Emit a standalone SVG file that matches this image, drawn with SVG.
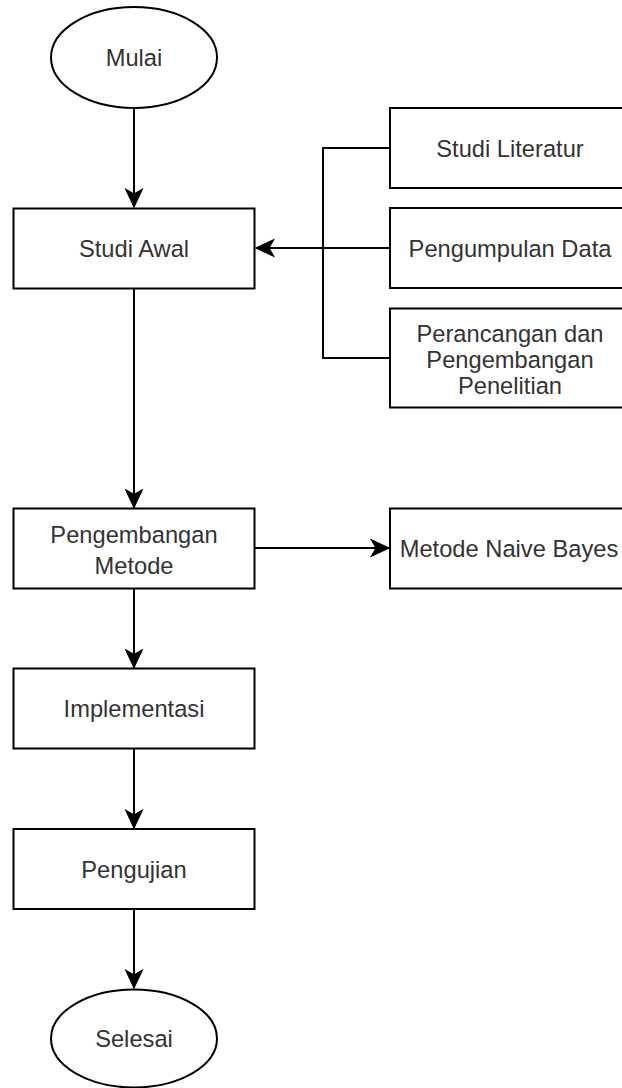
<svg xmlns="http://www.w3.org/2000/svg" width="622" height="1088" viewBox="0 0 622 1088">
  <style>
    .shape { fill: #ffffff; stroke: #000000; stroke-width: 2; }
    .label { font-family: "Liberation Sans", Arial, sans-serif; font-size: 23.7px; fill: #333333; text-anchor: middle; }
    .edge { fill: none; stroke: #000000; stroke-width: 2; }
  </style>
  <defs>
    <marker id="arrow" markerUnits="userSpaceOnUse" markerWidth="20" markerHeight="20" viewBox="-16 -8 17 16" refX="0" refY="0" orient="auto">
      <path d="M0,0 L-15,-7 L-11,0 L-15,7 Z" fill="#000000" stroke="#000000" stroke-width="1"/>
    </marker>
  </defs>
  <rect width="622" height="1088" fill="#ffffff"/>

  <g id="connectors">
    <path class="edge" d="M134,108 L134,207" marker-end="url(#arrow)"/>
    <path class="edge" d="M390,148 L323,148 L323,358 L390,358"/>
    <path class="edge" d="M390,248 L256,248" marker-end="url(#arrow)"/>
    <path class="edge" d="M134,288.5 L134,507.5" marker-end="url(#arrow)"/>
    <path class="edge" d="M255,548 L389,548" marker-end="url(#arrow)"/>
    <path class="edge" d="M134,588.5 L134,667.5" marker-end="url(#arrow)"/>
    <path class="edge" d="M134,748.5 L134,828" marker-end="url(#arrow)"/>
    <path class="edge" d="M134,909 L134,988" marker-end="url(#arrow)"/>
  </g>

  <g id="mulai">
    <ellipse class="shape" cx="134" cy="57.5" rx="83" ry="50.5"/>
    <text class="label" x="134" y="66">Mulai</text>
  </g>
  <g id="studi-awal">
    <rect class="shape" x="13.5" y="208.5" width="241" height="80"/>
    <text class="label" x="134" y="256.5">Studi Awal</text>
  </g>
  <g id="studi-literatur">
    <rect class="shape" x="390" y="108" width="241" height="80"/>
    <text class="label" x="510" y="156.5">Studi Literatur</text>
  </g>
  <g id="pengumpulan-data">
    <rect class="shape" x="390" y="208" width="241" height="80"/>
    <text class="label" x="510" y="256.5">Pengumpulan Data</text>
  </g>
  <g id="perancangan">
    <rect class="shape" x="390" y="308.5" width="241" height="99"/>
    <text class="label" x="510" y="341.5">Perancangan dan</text>
    <text class="label" x="510" y="367.5">Pengembangan</text>
    <text class="label" x="510" y="394">Penelitian</text>
  </g>
  <g id="pengembangan-metode">
    <rect class="shape" x="13.5" y="508.5" width="241" height="80"/>
    <text class="label" x="134" y="543">Pengembangan</text>
    <text class="label" x="134" y="573.5">Metode</text>
  </g>
  <g id="metode-naive-bayes">
    <rect class="shape" x="390" y="508.5" width="241" height="80"/>
    <text class="label" x="509" y="556.5">Metode Naive Bayes</text>
  </g>
  <g id="implementasi">
    <rect class="shape" x="13.5" y="668.5" width="241" height="80"/>
    <text class="label" x="134" y="717">Implementasi</text>
  </g>
  <g id="pengujian">
    <rect class="shape" x="13.5" y="829" width="241" height="80"/>
    <text class="label" x="134" y="877.5">Pengujian</text>
  </g>
  <g id="selesai">
    <ellipse class="shape" cx="134" cy="1038.5" rx="83" ry="49"/>
    <text class="label" x="134" y="1047">Selesai</text>
  </g>
</svg>
